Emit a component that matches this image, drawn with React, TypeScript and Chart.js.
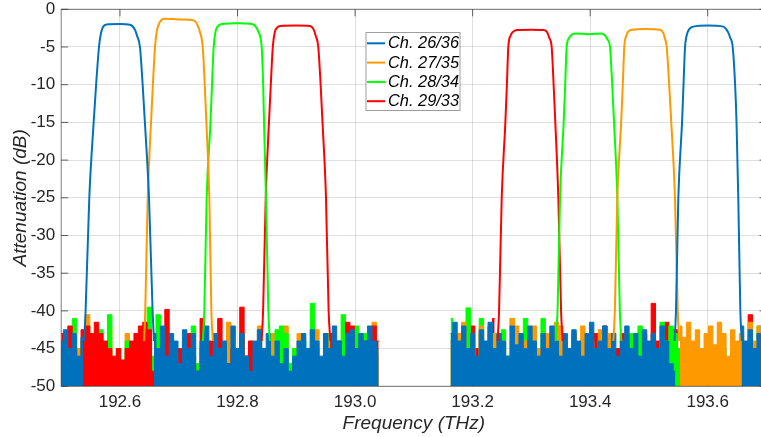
import React, { useEffect, useRef } from "react";
import { Chart, registerables } from "chart.js";

Chart.register(...registerables);

// ---------- axis / labels ----------
const X_MIN = 192.5;
const X_MAX = 193.7;
const Y_MIN = -50;
const Y_MAX = 0;
const X_TICKS = [192.6, 192.8, 193.0, 193.2, 193.4, 193.6];
const Y_TICKS = [0, -5, -10, -15, -20, -25, -30, -35, -40, -45, -50];
const X_TITLE = "Frequency (THz)";
const Y_TITLE = "Attenuation (dB)";
const CHANNELS = ["Ch. 26/36", "Ch. 27/35", "Ch. 28/34", "Ch. 29/33"];
const COLORS = ["#0072BD", "#FF9900", "#00FF00", "#FF0000"];

// ---------- passbands (frequency THz, attenuation dB) ----------
const CH26_LEFT_F = [192.539, 192.5415, 192.5478, 192.5552, 192.5594, 192.5643, 192.5662, 192.5685, 192.5715, 192.577, 192.6, 192.617, 192.6225, 192.626, 192.629, 192.634, 192.6386, 192.6424, 192.6494, 192.6555, 192.658];
const CH26_LEFT_DB = [-44, -40, -25, -15, -10, -5, -3.8, -2.9, -2.3, -2.0, -1.95, -2.05, -2.35, -2.8, -3.5, -5, -10, -15, -25, -40, -44];
const CH26_RIGHT_F = [193.5435, 193.546, 193.55, 193.5563, 193.5588, 193.5614, 193.5633, 193.566, 193.5695, 193.5755, 193.6, 193.6265, 193.631, 193.635, 193.638, 193.6425, 193.6466, 193.649, 193.652, 193.6555, 193.658];
const CH26_RIGHT_DB = [-44, -40, -25, -15, -10, -5, -3.8, -3.0, -2.55, -2.3, -2.15, -2.3, -2.6, -3.1, -3.7, -5, -10, -15, -25, -40, -44];

const CH27_LEFT_F = [192.641, 192.643, 192.6472, 192.6528, 192.656, 192.6596, 192.6625, 192.666, 192.6695, 192.675, 192.7, 192.72, 192.728, 192.732, 192.736, 192.7408, 192.7442, 192.747, 192.752, 192.7555, 192.758];
const CH27_LEFT_DB = [-44, -40, -25, -15, -10, -5, -3, -2, -1.5, -1.25, -1.35, -1.4, -1.6, -2.1, -3, -5, -10, -15, -25, -40, -44];
const CH27_RIGHT_F = [193.4395, 193.442, 193.4462, 193.4527, 193.4555, 193.458, 193.4615, 193.4655, 193.4707, 193.495, 193.5188, 193.524, 193.527, 193.5302, 193.5344, 193.538, 193.5443, 193.549, 193.5515];
const CH27_RIGHT_DB = [-44, -40, -25, -15, -10, -5, -3.5, -2.9, -2.7, -2.6, -2.7, -3.1, -3.8, -5, -10, -15, -25, -40, -44];

const CH28_LEFT_F = [192.741, 192.7435, 192.7475, 192.754, 192.7566, 192.7594, 192.7625, 192.766, 192.773, 192.8, 192.825, 192.831, 192.8355, 192.8411, 192.8436, 192.8451, 192.8484, 192.8525, 192.855];
const CH28_LEFT_DB = [-44, -40, -25, -15, -10, -5, -3, -2.3, -1.95, -1.85, -1.95, -2.3, -3, -5, -10, -15, -25, -40, -44];
const CH28_RIGHT_F = [193.3415, 193.3445, 193.3487, 193.3549, 193.3575, 193.36, 193.3635, 193.368, 193.3742, 193.397, 193.4196, 193.4255, 193.4295, 193.4337, 193.4375, 193.4406, 193.4462, 193.4505, 193.453];
const CH28_RIGHT_DB = [-44, -40, -25, -15, -10, -5, -3.9, -3.4, -3.2, -3.3, -3.2, -3.5, -4.0, -5, -10, -15, -25, -40, -44];

const CH29_LEFT_F = [192.841, 192.8435, 192.848, 192.8535, 192.8566, 192.86, 192.8635, 192.8665, 192.8723, 192.9, 192.9233, 192.929, 192.933, 192.9374, 192.9414, 192.9446, 192.9505, 192.955, 192.958];
const CH29_LEFT_DB = [-44, -40, -25, -15, -10, -5, -3, -2.5, -2.2, -2.15, -2.2, -2.6, -3.5, -5, -10, -15, -25, -40, -44];
const CH29_RIGHT_F = [193.2425, 193.245, 193.2495, 193.2557, 193.2583, 193.2607, 193.2645, 193.2685, 193.275, 193.3, 193.3203, 193.3265, 193.3305, 193.3345, 193.3378, 193.3407, 193.3458, 193.3505, 193.353];
const CH29_RIGHT_DB = [-44, -40, -25, -15, -10, -5, -3.5, -3, -2.75, -2.7, -2.75, -3.0, -3.8, -5, -10, -15, -25, -40, -44];

// ---------- noise floor samples (dB), sampled every NOISE_STEP THz ----------
const NOISE_STEP = 0.0075;
const NOISE_LEFT_START = 192.5;
const NOISE_RIGHT_START = 193.1625;

const N = null;
const NOISE26_LEFT = [-44, -42.5, -45, -43, -46, -43.5,
  N, N, N, N, N, N, N, N, N, N, N, N, N, N, N,
  -43, -45, -42, -46, -43, -44, -47, -42.5, -45, -43,
  -48, -44, -42, -46, -43, -45, -44, -47, -42, -45,
  -43, -46, -48, -44, -42.5, -45, -43, -46, -44, -47,
  -45, -48, -46, -44, -43, -45, -42.5, -44, -46, -43,
  -45, -42, -44, -46, -43, -42.5, -45, -43, -44, -42,
  -44, -45];
const NOISE27_LEFT = [-46, -48, -44, -47, -45, -46, -40.5, -46, -47, -45,
  -48, -42, -47, -46, -48, -43, -47, -46, -45, -44,
  N, N, N, N, N, N, N, N, N, N, N, N, N, N, N,
  -43, -46, -44, -41.5, -45, -47, -43, -46, -44, -48,
  -42, -45, -47, -43, -46, -44, -42, -47, -45, -43,
  -46, -48, -44, -42.5, -47, -45, -43, -46, -48, -44,
  -42, -46, -45, -47, -43, -45, -41.5, -44];
const NOISE28_LEFT = [-45, -43, -46, -41, -47, -44, -46, -43.5, -47, -42.5,
  -46, -40.5, -47, -45, -48, -44, -47, -45, -48, -46,
  -39.5, -46, -40.5, -44, -47, -43, -46, -48, -44, -46,
  -42, -47, -45,
  N, N, N, N, N, N, N, N, N, N, N, N, N, N,
  -44, -46, -42.5, -42, -43, -47, -45, -48, -44, -46,
  -39, -45, -47, -43, -46, -44, -48, -40.5, -44, -46,
  -42, -45, -43, -47, -44, -46];
const NOISE29_LEFT = [-43, -44, -42, -45, -47, -42.5, -42, -43, -41.5, -43,
  -44, -45, -46, -45, -46.5, -45, -44, -43, -42, -41.5,
  -42.5, -48, -46, -46, -39.8, -44, -49, -45, -47, -43,
  -46, -48, -41, -47, -44, -49, -41, -45, -47, -45,
  -47, -39.5, -46, -44, -47, -45,
  N, N, N, N, N, N, N, N, N, N, N, N, N, N, N,
  -43, -46, -44, -47, -41.5, -42, -45, -46, -44, -47, -42, -44];

const NOISE26_RIGHT = [-43, -41.5, -44, -42, -45, -43, -46, -42.5, -44, -41.5,
  -45, -43, -44, -46, -42, -44.5, -43, -45, -42, -44,
  -46, -43, -45, -42, -44, -46, -43, -45, -42.5, -44,
  -46, -43, -41.5, -45, -44, -42, -45, -43, -46, -44,
  -42, -45, -43, -46, -42.5, -44, -43, -45, -42, -44,
  -47, -48,
  N, N, N, N, N, N, N, N, N, N, N, N, N, N,
  -42, -44, -42.5, -45, -43, -44];
const NOISE27_RIGHT = [-45, -47, -43, -41.5, -46, -44, -48, -42, -45, -47,
  -43, -46, -44, -48, -41, -42, -46, -44, -47, -42,
  -45, -47, -43, -46, -41.5, -42, -44, -47, -43, -45,
  -42, -46, -44, -48, -42.5, -45, -43, -46,
  N, N, N, N, N, N, N, N, N, N, N, N, N, N,
  -42, -43.5, -41.5, -44, -42.5, -45, -43, -42, -44.5, -41.5,
  -43, -46, -42.5, -44, -43, -46, -41.5, -44, -42, -45];
const NOISE28_RIGHT = [-41, -44, -46, -43, -39.6, -45, -47, -41, -45, -43,
  -47, -44, -42.5, -46, -41, -45, -43, -41, -46, -44,
  -47, -41, -45, -43, -42,
  N, N, N, N, N, N, N, N, N, N, N, N, N, N,
  -44, -46, -43, -47, -42, -45, -47, -44, -46, -41.5,
  -44, -42, -43, -45, -47, -44, -48, -46, -45, -48,
  -47, -46, -48, -45, -47, -46, -48, -44, -46, -43,
  -45, -42, -46];
const NOISE29_RIGHT = [-44, -46, -43, -47, -42.5, -42, -45, -43, -46, -42,
  -41,
  N, N, N, N, N, N, N, N, N, N, N, N, N, N,
  -44, -47, -45, -43, -46, -44, -47, -45, -43, -46,
  -42, -44, -47, -45, -43, -46, -44, -47, -45, -43,
  -46, -39, -44, -46, -41.5, -44, -42.5, -47, -49, -46,
  -48, -47, -49, -47, -48, -46, -49, -47, -48, -46,
  -48, -44, -46, -40.5, -45, -43, -46];

const FONT = '"Liberation Sans", Arial, Helvetica, sans-serif';
const TEXT_COLOR = "#262626";

function pairPoints(f: number[], db: number[]) {
  return f.map((x, i) => ({ x, y: db[i] }));
}

function noisePoints(start: number, vals: (number | null)[]) {
  return vals.map((v, i) => ({ x: +(start + i * NOISE_STEP).toFixed(5), y: v }));
}

function passDataset(k: number, lf: number[], ldb: number[], rf: number[], rdb: number[]) {
  return {
    label: CHANNELS[k],
    data: [...pairPoints(lf, ldb), { x: 193.1, y: null }, ...pairPoints(rf, rdb)],
    borderColor: COLORS[k],
    backgroundColor: COLORS[k],
    borderWidth: 2,
    pointRadius: 0,
    fill: false,
    spanGaps: false,
    cubicInterpolationMode: "monotone",
    order: 0,
  };
}

function noiseDataset(k: number, start: number, vals: (number | null)[], order: number) {
  return {
    label: "noise",
    data: noisePoints(start, vals),
    borderColor: COLORS[k],
    backgroundColor: COLORS[k],
    borderWidth: 1,
    pointRadius: 0,
    fill: "start",
    spanGaps: false,
    stepped: "middle",
    order,
  };
}

const framePlugin = {
  id: "matlabFrame",
  beforeDatasetsDraw(chart: any) {
    const { ctx, chartArea: a, scales } = chart;
    ctx.save();
    ctx.strokeStyle = "rgba(38,38,38,0.7)";
    ctx.lineWidth = 1;
    ctx.beginPath();
    X_TICKS.forEach((v) => {
      const px = scales.x.getPixelForValue(v);
      ctx.moveTo(px, a.bottom);
      ctx.lineTo(px, a.bottom - 7);
      ctx.moveTo(px, a.top);
      ctx.lineTo(px, a.top + 7);
    });
    Y_TICKS.forEach((v) => {
      const py = scales.y.getPixelForValue(v);
      ctx.moveTo(a.left, py);
      ctx.lineTo(a.left + 7, py);
      ctx.moveTo(a.right, py);
      ctx.lineTo(a.right - 7, py);
    });
    ctx.stroke();
    ctx.restore();
  },
  afterDatasetsDraw(chart: any) {
    const { ctx, chartArea: a } = chart;
    ctx.save();
    ctx.strokeStyle = "rgba(38,38,38,0.6)";
    ctx.lineWidth = 1;
    ctx.strokeRect(a.left, a.top, a.right - a.left, a.bottom - a.top);
    ctx.restore();
  },
};

const legendPlugin = {
  id: "boxLegend",
  afterDraw(chart: any) {
    const ctx = chart.ctx;
    ctx.save();
    ctx.fillStyle = "#ffffff";
    ctx.fillRect(366, 32.5, 94, 78);
    ctx.strokeStyle = "rgba(38,38,38,0.45)";
    ctx.lineWidth = 1;
    ctx.strokeRect(366, 32.5, 94, 78);
    CHANNELS.forEach((name, k) => {
      const y = 43.3 + k * 19.3;
      ctx.strokeStyle = COLORS[k];
      ctx.lineWidth = 2;
      ctx.beginPath();
      ctx.moveTo(367, y);
      ctx.lineTo(385, y);
      ctx.stroke();
      ctx.fillStyle = "#000000";
      ctx.font = `italic 16.4px ${FONT}`;
      ctx.textAlign = "left";
      ctx.textBaseline = "middle";
      ctx.fillText(name, 388, y + 0.5);
    });
    ctx.restore();
  },
};

export default function App() {
  const ref = useRef<HTMLCanvasElement | null>(null);

  useEffect(() => {
    const canvas = ref.current;
    if (!canvas) return;
    const datasets: any[] = [
      passDataset(0, CH26_LEFT_F, CH26_LEFT_DB, CH26_RIGHT_F, CH26_RIGHT_DB),
      passDataset(1, CH27_LEFT_F, CH27_LEFT_DB, CH27_RIGHT_F, CH27_RIGHT_DB),
      passDataset(2, CH28_LEFT_F, CH28_LEFT_DB, CH28_RIGHT_F, CH28_RIGHT_DB),
      passDataset(3, CH29_LEFT_F, CH29_LEFT_DB, CH29_RIGHT_F, CH29_RIGHT_DB),
      noiseDataset(0, NOISE_LEFT_START, NOISE26_LEFT, 1),
      noiseDataset(3, NOISE_LEFT_START, NOISE29_LEFT, 2),
      noiseDataset(2, NOISE_LEFT_START, NOISE28_LEFT, 3),
      noiseDataset(1, NOISE_LEFT_START, NOISE27_LEFT, 4),
      noiseDataset(0, NOISE_RIGHT_START, NOISE26_RIGHT, 1),
      noiseDataset(1, NOISE_RIGHT_START, NOISE27_RIGHT, 2),
      noiseDataset(2, NOISE_RIGHT_START, NOISE28_RIGHT, 3),
      noiseDataset(3, NOISE_RIGHT_START, NOISE29_RIGHT, 4),
    ];
    const chart = new Chart(canvas, {
      type: "line",
      data: { datasets },
      plugins: [framePlugin, legendPlugin],
      options: {
        animation: false,
        responsive: false,
        events: [],
        layout: { padding: { left: 0, top: 9.3, right: 8.5, bottom: 0 } },
        plugins: { legend: { display: false }, tooltip: { enabled: false } },
        scales: {
          x: {
            type: "linear",
            min: X_MIN,
            max: X_MAX,
            afterBuildTicks: (scale: any) => {
              scale.ticks = X_TICKS.map((value) => ({ value }));
            },
            afterFit: (scale: any) => {
              scale.height = 50.7;
              scale.paddingLeft = 0;
              scale.paddingRight = 0;
            },
            ticks: {
              padding: 6,
              color: TEXT_COLOR,
              font: { family: FONT, size: 17 },
              maxRotation: 0,
              autoSkip: false,
              callback: (v: any) => Number(v).toFixed(1),
            },
            grid: { color: "rgba(38,38,38,0.15)", drawTicks: false, lineWidth: 1 },
            border: { display: false },
            title: {
              display: true,
              text: X_TITLE,
              color: TEXT_COLOR,
              font: { family: FONT, size: 19, style: "italic" },
              padding: { top: 0, bottom: 2 },
            },
          },
          y: {
            type: "linear",
            min: Y_MIN,
            max: Y_MAX,
            afterBuildTicks: (scale: any) => {
              scale.ticks = Y_TICKS.map((value) => ({ value }));
            },
            afterFit: (scale: any) => {
              scale.width = 61.2;
              scale.paddingTop = 0;
              scale.paddingBottom = 0;
            },
            ticks: {
              padding: 6,
              color: TEXT_COLOR,
              font: { family: FONT, size: 17 },
              autoSkip: false,
              callback: (v: any) => String(v),
            },
            grid: { color: "rgba(38,38,38,0.15)", drawTicks: false, lineWidth: 1 },
            border: { display: false },
            title: {
              display: true,
              text: Y_TITLE,
              color: TEXT_COLOR,
              font: { family: FONT, size: 19, style: "italic" },
              padding: { top: 9, bottom: 0 },
            },
          },
        },
      },
    } as any);
    return () => chart.destroy();
  }, []);

  return (
    <div style={{ position: "fixed", left: 0, top: 0, width: 775, height: 437, background: "#fff" }}>
      <canvas ref={ref} width={775} height={437} style={{ display: "block", width: 775, height: 437 }} />
    </div>
  );
}
